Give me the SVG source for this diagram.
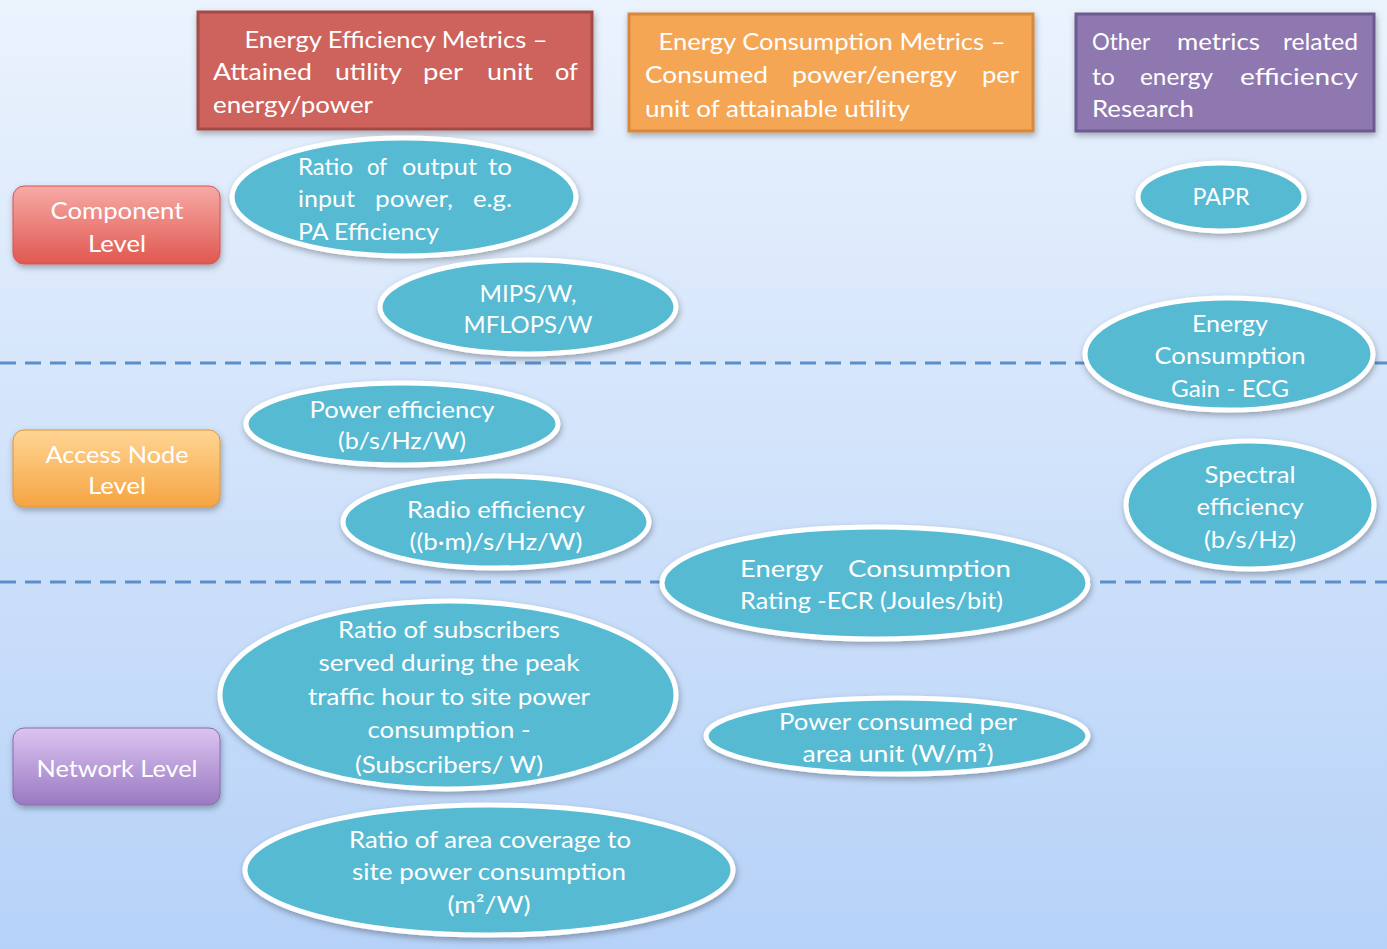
<svg xmlns="http://www.w3.org/2000/svg" width="1387" height="949" viewBox="0 0 1387 949">
<defs>
<linearGradient id="bg" x1="0" y1="0" x2="0" y2="1">
<stop offset="0" stop-color="#ebf3fd"/>
<stop offset="1" stop-color="#b6d2f8"/>
</linearGradient>
<linearGradient id="gRed" x1="0" y1="0" x2="0" y2="1">
<stop offset="0" stop-color="#f7aaa6"/>
<stop offset="1" stop-color="#e05850"/>
</linearGradient>
<linearGradient id="gOrange" x1="0" y1="0" x2="0" y2="1">
<stop offset="0" stop-color="#ffd593"/>
<stop offset="1" stop-color="#f5a443"/>
</linearGradient>
<linearGradient id="gPurple" x1="0" y1="0" x2="0" y2="1">
<stop offset="0" stop-color="#dcc4f1"/>
<stop offset="1" stop-color="#9a79c1"/>
</linearGradient>
<filter id="sh" x="-10%" y="-10%" width="125%" height="130%">
<feDropShadow dx="1" dy="3" stdDeviation="3" flood-color="#000" flood-opacity="0.3"/>
</filter>
</defs>
<style>
text{font-family:Lato,"Open Sans","Liberation Sans",sans-serif;font-size:23px;fill:#ffffff}
.c{text-anchor:middle}
.ell{fill:#57bad3;stroke:#ffffff;stroke-width:5;filter:url(#sh)}
.hdr{stroke-width:3;filter:url(#sh)}
.lvl{filter:url(#sh)}
.dash{stroke:#5b8fcb;stroke-width:3;stroke-dasharray:16 9;fill:none}
</style>
<rect x="0" y="0" width="1387" height="949" fill="url(#bg)"/>

<g id="connectors">
<line class="dash" x1="0" y1="363" x2="1387" y2="363"/>
<line class="dash" x1="0" y1="582" x2="1387" y2="582"/>
</g>

<g id="hdr-efficiency">
<rect class="hdr" x="198" y="12" width="394" height="117" fill="#cd635c" stroke="#a44a44"/>
<text class="c" x="396" y="48" textLength="303" lengthAdjust="spacingAndGlyphs">Energy Efficiency Metrics –</text>
<text x="213" y="80" textLength="99" lengthAdjust="spacingAndGlyphs">Attained</text>
<text x="335" y="80" textLength="67" lengthAdjust="spacingAndGlyphs">utility</text>
<text x="423" y="80" textLength="40" lengthAdjust="spacingAndGlyphs">per</text>
<text x="487" y="80" textLength="46" lengthAdjust="spacingAndGlyphs">unit</text>
<text x="555" y="80" textLength="23" lengthAdjust="spacingAndGlyphs">of</text>
<text x="213" y="113" textLength="160" lengthAdjust="spacingAndGlyphs">energy/power</text>
</g>

<g id="hdr-consumption">
<rect class="hdr" x="629" y="14" width="404" height="117" fill="#f5a654" stroke="#d8873a"/>
<text class="c" x="832" y="50" textLength="347" lengthAdjust="spacingAndGlyphs">Energy Consumption Metrics –</text>
<text x="645" y="83" textLength="123" lengthAdjust="spacingAndGlyphs">Consumed</text>
<text x="792" y="83" textLength="165" lengthAdjust="spacingAndGlyphs">power/energy</text>
<text x="982" y="83" textLength="37" lengthAdjust="spacingAndGlyphs">per</text>
<text x="645" y="117" textLength="265" lengthAdjust="spacingAndGlyphs">unit of attainable utility</text>
</g>

<g id="hdr-other">
<rect class="hdr" x="1076" y="14" width="298" height="117" fill="#8f78b0" stroke="#6d5a90"/>
<text x="1092" y="50" textLength="58" lengthAdjust="spacingAndGlyphs">Other</text>
<text x="1177" y="50" textLength="83" lengthAdjust="spacingAndGlyphs">metrics</text>
<text x="1283" y="50" textLength="75" lengthAdjust="spacingAndGlyphs">related</text>
<text x="1092" y="85" textLength="23" lengthAdjust="spacingAndGlyphs">to</text>
<text x="1140" y="85" textLength="73" lengthAdjust="spacingAndGlyphs">energy</text>
<text x="1240" y="85" textLength="118" lengthAdjust="spacingAndGlyphs">efficiency</text>
<text x="1092" y="117" textLength="102" lengthAdjust="spacingAndGlyphs">Research</text>
</g>

<g id="lvl-component">
<rect class="lvl" x="13" y="186" width="207" height="78" rx="11" fill="url(#gRed)" stroke="#d5554e" stroke-width="1"/>
<text class="c" x="117" y="219" textLength="133" lengthAdjust="spacingAndGlyphs">Component</text>
<text class="c" x="117" y="252" textLength="58" lengthAdjust="spacingAndGlyphs">Level</text>
</g>

<g id="lvl-access">
<rect class="lvl" x="13" y="430" width="207" height="77" rx="11" fill="url(#gOrange)" stroke="#e0953b" stroke-width="1"/>
<text class="c" x="117" y="463" textLength="143" lengthAdjust="spacingAndGlyphs">Access Node</text>
<text class="c" x="117" y="494" textLength="58" lengthAdjust="spacingAndGlyphs">Level</text>
</g>

<g id="lvl-network">
<rect class="lvl" x="13" y="728" width="207" height="77" rx="11" fill="url(#gPurple)" stroke="#8a6bb1" stroke-width="1"/>
<text class="c" x="117" y="777" textLength="161" lengthAdjust="spacingAndGlyphs">Network Level</text>
</g>

<g id="n-pa-efficiency">
<ellipse class="ell" cx="404" cy="197" rx="172" ry="59"/>
<text x="298" y="175" textLength="55" lengthAdjust="spacingAndGlyphs">Ratio</text>
<text x="367" y="175" textLength="20" lengthAdjust="spacingAndGlyphs">of</text>
<text x="402" y="175" textLength="75" lengthAdjust="spacingAndGlyphs">output</text>
<text x="488" y="175" textLength="24" lengthAdjust="spacingAndGlyphs">to</text>
<text x="298" y="207" textLength="57" lengthAdjust="spacingAndGlyphs">input</text>
<text x="375" y="207" textLength="78" lengthAdjust="spacingAndGlyphs">power,</text>
<text x="473" y="207" textLength="39" lengthAdjust="spacingAndGlyphs">e.g.</text>
<text x="298" y="240" textLength="141" lengthAdjust="spacingAndGlyphs">PA Efficiency</text>
</g>

<g id="n-mips">
<ellipse class="ell" cx="528" cy="307" rx="148" ry="47"/>
<text class="c" x="528" y="302" textLength="97" lengthAdjust="spacingAndGlyphs">MIPS/W,</text>
<text class="c" x="528" y="333" textLength="129" lengthAdjust="spacingAndGlyphs">MFLOPS/W</text>
</g>

<g id="n-papr">
<ellipse class="ell" cx="1221" cy="197" rx="83" ry="34"/>
<text class="c" x="1221" y="205" textLength="57" lengthAdjust="spacingAndGlyphs">PAPR</text>
</g>

<g id="n-ecg">
<ellipse class="ell" cx="1229" cy="354" rx="144" ry="56"/>
<text class="c" x="1230" y="332" textLength="76" lengthAdjust="spacingAndGlyphs">Energy</text>
<text class="c" x="1230" y="364" textLength="151" lengthAdjust="spacingAndGlyphs">Consumption</text>
<text class="c" x="1230" y="397" textLength="118" lengthAdjust="spacingAndGlyphs">Gain - ECG</text>
</g>

<g id="n-power-eff">
<ellipse class="ell" cx="402" cy="424" rx="156" ry="41"/>
<text class="c" x="402" y="418" textLength="185" lengthAdjust="spacingAndGlyphs">Power efficiency</text>
<text class="c" x="402" y="449" textLength="128" lengthAdjust="spacingAndGlyphs">(b/s/Hz/W)</text>
</g>

<g id="n-radio-eff">
<ellipse class="ell" cx="496" cy="522" rx="153" ry="46"/>
<text class="c" x="496" y="518" textLength="178" lengthAdjust="spacingAndGlyphs">Radio efficiency</text>
<text class="c" x="496" y="550" textLength="173" lengthAdjust="spacingAndGlyphs">((b·m)/s/Hz/W)</text>
</g>

<g id="n-spectral">
<ellipse class="ell" cx="1250" cy="505" rx="124" ry="64"/>
<text class="c" x="1250" y="483" textLength="91" lengthAdjust="spacingAndGlyphs">Spectral</text>
<text class="c" x="1250" y="515" textLength="107" lengthAdjust="spacingAndGlyphs">efficiency</text>
<text class="c" x="1250" y="548" textLength="92" lengthAdjust="spacingAndGlyphs">(b/s/Hz)</text>
</g>

<g id="n-ecr">
<ellipse class="ell" cx="875" cy="583" rx="213" ry="56"/>
<text x="740" y="577" textLength="83" lengthAdjust="spacingAndGlyphs">Energy</text>
<text x="848" y="577" textLength="163" lengthAdjust="spacingAndGlyphs">Consumption</text>
<text x="740" y="609" textLength="263" lengthAdjust="spacingAndGlyphs">Rating -ECR (Joules/bit)</text>
</g>

<g id="n-subscribers">
<ellipse class="ell" cx="448" cy="695" rx="228" ry="94"/>
<text class="c" x="449" y="638" textLength="222" lengthAdjust="spacingAndGlyphs">Ratio of subscribers</text>
<text class="c" x="449" y="671" textLength="261" lengthAdjust="spacingAndGlyphs">served during the peak</text>
<text class="c" x="449" y="705" textLength="282" lengthAdjust="spacingAndGlyphs">traffic hour to site power</text>
<text class="c" x="449" y="738" textLength="163" lengthAdjust="spacingAndGlyphs">consumption -</text>
<text class="c" x="449" y="773" textLength="188" lengthAdjust="spacingAndGlyphs">(Subscribers/ W)</text>
</g>

<g id="n-power-area">
<ellipse class="ell" cx="897" cy="736" rx="191" ry="38"/>
<text class="c" x="898" y="730" textLength="238" lengthAdjust="spacingAndGlyphs">Power consumed per</text>
<text class="c" x="898" y="762" textLength="191" lengthAdjust="spacingAndGlyphs">area unit (W/m²)</text>
</g>

<g id="n-area-coverage">
<ellipse class="ell" cx="489" cy="870" rx="244" ry="65"/>
<text class="c" x="490" y="848" textLength="282" lengthAdjust="spacingAndGlyphs">Ratio of area coverage to</text>
<text class="c" x="489" y="880" textLength="274" lengthAdjust="spacingAndGlyphs">site power consumption</text>
<text class="c" x="489" y="913" textLength="83" lengthAdjust="spacingAndGlyphs">(m²/W)</text>
</g>
</svg>
